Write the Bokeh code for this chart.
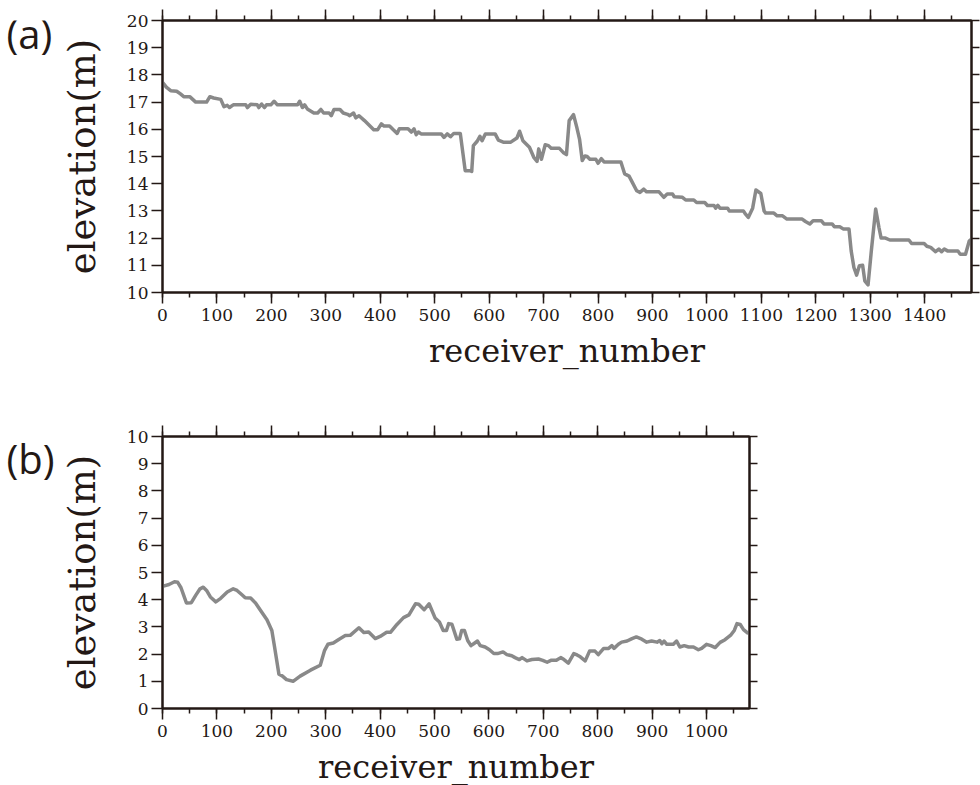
from bokeh.plotting import figure
from bokeh.models import LinearAxis, SingleIntervalTicker, Range1d, ColumnDataSource
from bokeh.layouts import column, row
from bokeh.core.properties import value
from bokeh.embed import file_html
from bokeh.resources import INLINE

# ---- data: panel (a) ----
a_receiver = [0, 7, 15, 26, 33, 39, 50, 61, 81, 87, 94, 107, 113, 119, 123, 130, 153, 156, 162, 174,
              177, 182, 187, 191, 199, 205, 211, 248, 252, 257, 261, 266, 278, 285, 291, 296, 306, 310,
              315, 326, 332, 340, 344, 351, 355, 361, 371, 388, 395, 402, 407, 417, 423, 431, 435, 451,
              457, 462, 466, 470, 475, 512, 517, 523, 529, 535, 547, 556, 564, 568, 571, 578, 583, 587,
              593, 611, 617, 627, 639, 651, 656, 662, 674, 682, 688, 691, 696, 703, 709, 714, 729, 736,
              742, 747, 755, 761, 766, 771, 776, 780, 785, 796, 800, 806, 811, 842, 849, 857, 863, 871,
              877, 884, 889, 912, 921, 927, 937, 940, 955, 961, 976, 981, 996, 1001, 1013, 1016, 1020,
              1024, 1038, 1041, 1067, 1071, 1076, 1084, 1090, 1099, 1105, 1108, 1123, 1129, 1139, 1147,
              1175, 1181, 1189, 1195, 1210, 1215, 1230, 1234, 1244, 1251, 1261, 1265, 1270, 1275, 1280,
              1286, 1290, 1296, 1302, 1310, 1316, 1320, 1328, 1336, 1371, 1376, 1399, 1404, 1411, 1420,
              1426, 1431, 1436, 1442, 1461, 1465, 1475, 1482, 1486]
a_elevation = [17.73, 17.55, 17.42, 17.4, 17.3, 17.2, 17.2, 17.0, 17.0, 17.2, 17.15, 17.1, 16.83, 16.88,
               16.8, 16.9, 16.9, 16.8, 16.92, 16.9, 16.8, 16.93, 16.8, 16.9, 16.9, 17.03, 16.9, 16.9,
               17.03, 16.8, 16.9, 16.75, 16.6, 16.6, 16.73, 16.6, 16.6, 16.5, 16.73, 16.73, 16.6, 16.55,
               16.5, 16.6, 16.42, 16.5, 16.32, 15.98, 15.98, 16.2, 16.12, 16.12, 16.0, 15.85, 16.02,
               16.02, 15.9, 16.02, 15.8, 15.9, 15.83, 15.83, 15.7, 15.83, 15.73, 15.85, 15.85, 14.48,
               14.48, 14.45, 15.4, 15.56, 15.74, 15.58, 15.83, 15.83, 15.6, 15.52, 15.52, 15.68, 15.93,
               15.58, 15.34, 14.97, 14.82, 15.28, 14.9, 15.43, 15.4, 15.3, 15.3, 15.15, 15.07, 16.32,
               16.54, 16.07, 15.64, 14.85, 15.02, 15.0, 14.9, 14.9, 14.75, 14.92, 14.8, 14.8, 14.36,
               14.28, 14.05, 13.74, 13.68, 13.8, 13.7, 13.7, 13.5, 13.62, 13.62, 13.52, 13.5, 13.4, 13.4,
               13.31, 13.31, 13.2, 13.2, 13.1, 13.2, 13.1, 13.1, 13.0, 13.0, 12.88, 12.76, 13.1, 13.77,
               13.64, 13.0, 12.92, 12.92, 12.82, 12.82, 12.7, 12.7, 12.61, 12.52, 12.64, 12.64, 12.52,
               12.52, 12.42, 12.42, 12.33, 12.33, 11.53, 10.92, 10.64, 10.98, 11.0, 10.43, 10.28, 11.53,
               13.07, 12.39, 12.0, 12.0, 11.93, 11.93, 11.8, 11.8, 11.7, 11.66, 11.5, 11.6, 11.5, 11.6,
               11.53, 11.53, 11.41, 11.41, 11.9, 11.96]

# ---- data: panel (b) ----
b_receiver = [0, 12, 22, 28, 34, 39, 44, 53, 61, 69, 75, 81, 88, 98, 107, 119, 130, 137, 146, 152, 162,
              171, 180, 192, 201, 206, 214, 220, 228, 240, 253, 272, 290, 298, 304, 314, 324, 336, 345,
              361, 370, 379, 391, 400, 412, 419, 431, 443, 453, 465, 471, 481, 490, 501, 509, 516, 522,
              526, 532, 541, 546, 550, 555, 561, 567, 572, 579, 584, 593, 601, 609, 616, 626, 633, 642,
              648, 656, 661, 670, 679, 691, 699, 707, 714, 724, 732, 738, 746, 756, 762, 768, 777, 785,
              795, 801, 811, 820, 826, 830, 838, 844, 854, 863, 871, 881, 890, 899, 909, 914, 918, 922,
              927, 939, 945, 951, 959, 967, 976, 985, 991, 1000, 1008, 1016, 1025, 1034, 1045, 1051,
              1056, 1062, 1068, 1077]
b_elevation = [4.49, 4.56, 4.66, 4.64, 4.44, 4.16, 3.88, 3.89, 4.16, 4.4, 4.46, 4.34, 4.1, 3.92, 4.05,
               4.28, 4.4, 4.34, 4.18, 4.07, 4.06, 3.88, 3.61, 3.26, 2.87, 2.26, 1.26, 1.2, 1.06, 1.0,
               1.19, 1.41, 1.59, 2.14, 2.36, 2.41, 2.54, 2.68, 2.69, 2.97, 2.79, 2.81, 2.57, 2.65, 2.8,
               2.8, 3.09, 3.34, 3.44, 3.85, 3.83, 3.63, 3.85, 3.33, 3.18, 2.87, 2.87, 3.12, 3.1, 2.55,
               2.56, 2.87, 2.87, 2.5, 2.31, 2.38, 2.48, 2.31, 2.26, 2.16, 2.02, 2.02, 2.08, 1.98, 1.94,
               1.87, 1.8, 1.87, 1.75, 1.8, 1.82, 1.77, 1.7, 1.77, 1.77, 1.87, 1.8, 1.67, 2.02, 1.97, 1.9,
               1.75, 2.11, 2.11, 1.98, 2.21, 2.21, 2.31, 2.21, 2.36, 2.44, 2.48, 2.57, 2.63, 2.55, 2.44,
               2.48, 2.44, 2.5, 2.38, 2.48, 2.36, 2.36, 2.48, 2.26, 2.31, 2.26, 2.26, 2.16, 2.21, 2.36,
               2.31, 2.24, 2.43, 2.53, 2.71, 2.87, 3.12, 3.09, 2.9, 2.75]

a_xmax, b_xmax = 1486, 1079
a_yrange, b_yrange = (10, 20), (0, 10)
x_label = "receiver_number"
y_label = "elevation(m)"
panel_tags = ["(a)", "(b)"]

INK = "#231815"
LINE = "#898989"
SERIF = "DejaVu Serif"
TAG_W = 56


def style_axis(ax, show_labels, tick_out, standoff):
    ax.axis_line_width = 2
    ax.axis_line_color = INK
    ax.major_tick_line_color = INK
    ax.major_tick_line_width = 1.5
    ax.minor_tick_line_color = INK
    ax.minor_tick_line_width = 1.5
    ax.major_tick_in = 0
    ax.major_tick_out = tick_out
    ax.minor_tick_in = 0
    ax.minor_tick_out = 5
    ax.major_label_standoff = standoff
    ax.major_label_text_font = SERIF
    if show_labels:
        ax.major_label_text_color = INK
        ax.major_label_text_font_size = "17px"
    else:
        ax.major_label_text_color = None
        ax.major_label_text_font_size = "0px"
    ax.axis_label_text_font = SERIF
    ax.axis_label_text_font_style = "normal"
    ax.axis_label_text_color = INK


def make_tag(tag, height, y_mid):
    # small figure left of the panel; its range is in pixels, 0 at the bottom
    t = figure(title=None, width=TAG_W, height=height,
               x_range=Range1d(0, TAG_W), y_range=Range1d(0, height),
               x_axis_location=None, y_axis_location=None,
               output_backend="svg", toolbar_location=None,
               min_border_left=0, min_border_right=0,
               min_border_top=0, min_border_bottom=0)
    t.xgrid.visible = False
    t.ygrid.visible = False
    t.outline_line_color = None
    t.text(x=[6], y=[height - y_mid], text=[tag], text_font=value("Open Sans"),
           text_font_size="40px", text_color=INK, text_align="left",
           text_baseline="middle")
    return t


def make_panel(xs, ys, xmax, yr, frame_w, top, bottom, right):
    p = figure(title=None, frame_width=frame_w, frame_height=272,
               x_range=Range1d(0, xmax), y_range=Range1d(*yr),
               x_axis_location=None, y_axis_location=None,
               output_backend="svg", toolbar_location=None,
               min_border_left=162 - TAG_W, min_border_top=top,
               min_border_bottom=bottom, min_border_right=right)
    p.xgrid.visible = False
    p.ygrid.visible = False
    p.outline_line_color = INK
    p.outline_line_width = 2
    p.background_fill_color = "white"
    p.border_fill_color = "white"

    xt = lambda: SingleIntervalTicker(interval=100, num_minor_ticks=2)
    yt = lambda: SingleIntervalTicker(interval=1, num_minor_ticks=0)

    below = LinearAxis(ticker=xt(), axis_label=x_label)
    style_axis(below, True, 11, 5)
    below.axis_label_text_font_size = "32px"
    below.axis_label_standoff = 8
    p.add_layout(below, "below")

    above = LinearAxis(ticker=xt())
    style_axis(above, False, 11, 0)
    p.add_layout(above, "above")

    left = LinearAxis(ticker=yt(), axis_label=y_label)
    style_axis(left, True, 11, 3)
    left.axis_label_text_font_size = "37px"
    left.axis_label_standoff = 20
    p.add_layout(left, "left")

    rgt = LinearAxis(ticker=yt())
    style_axis(rgt, False, 8, 0)
    p.add_layout(rgt, "right")

    src = ColumnDataSource(dict(x=xs, y=ys))
    p.line("x", "y", source=src, line_color=LINE, line_width=3.5, line_join="round")
    return p


p1 = make_panel(a_receiver, a_elevation, a_xmax, a_yrange, 809, 20, 108, 9)
p2 = make_panel(b_receiver, b_elevation, b_xmax, b_yrange, 587, 36, 112, 231)
t1 = make_tag(panel_tags[0], 400, 19)
t2 = make_tag(panel_tags[1], 420, 34)

layout = column(row(t1, p1, spacing=0), row(t2, p2, spacing=0), spacing=0)
open("out.html", "w").write(file_html(layout, INLINE))
